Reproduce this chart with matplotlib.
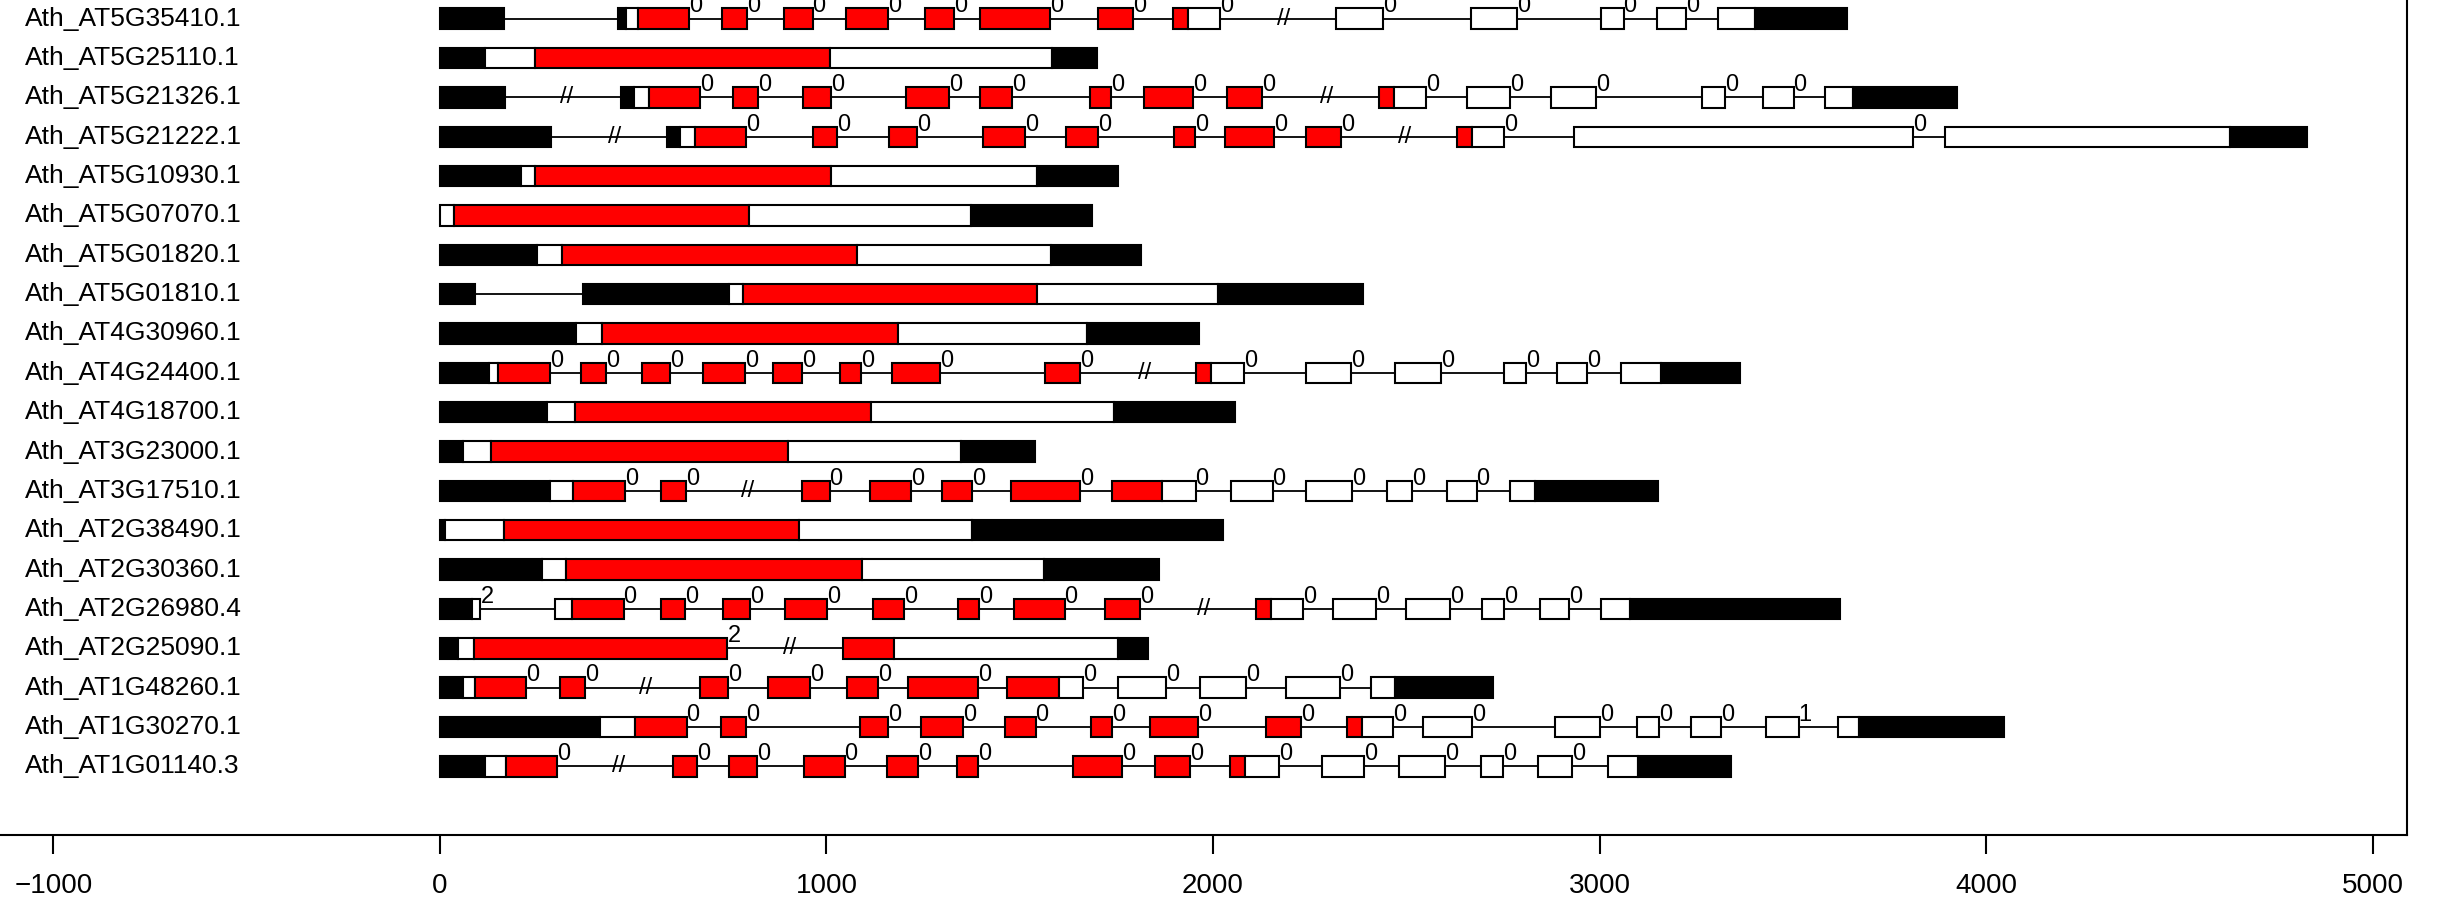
import matplotlib
matplotlib.use("Agg")
import matplotlib.pyplot as plt
from matplotlib.patches import Rectangle
from matplotlib import transforms

plt.rcParams['font.family'] = ['Liberation Sans', 'DejaVu Sans']

# segment kinds: u = UTR (black), c = CDS (white), d = domain (red)
gene_names = ["Ath_AT5G35410.1", "Ath_AT5G25110.1", "Ath_AT5G21326.1", "Ath_AT5G21222.1",
              "Ath_AT5G10930.1", "Ath_AT5G07070.1", "Ath_AT5G01820.1", "Ath_AT5G01810.1",
              "Ath_AT4G30960.1", "Ath_AT4G24400.1", "Ath_AT4G18700.1", "Ath_AT3G23000.1",
              "Ath_AT3G17510.1", "Ath_AT2G38490.1", "Ath_AT2G30360.1", "Ath_AT2G26980.4",
              "Ath_AT2G25090.1", "Ath_AT1G48260.1", "Ath_AT1G30270.1", "Ath_AT1G01140.3"]

seg_AT5G35410 = [(0, 165, 'u'), (462, 482, 'u'), (482, 513, 'c'), (513, 645, 'd'), (731, 795, 'd'),
                 (891, 964, 'd'), (1050, 1159, 'd'), (1256, 1331, 'd'), (1398, 1578, 'd'), (1703, 1793, 'd'),
                 (1896, 1935, 'd'), (1935, 2019, 'c'), (2319, 2440, 'c'), (2668, 2786, 'c'), (3004, 3062, 'c'),
                 (3148, 3224, 'c'), (3307, 3403, 'c'), (3403, 3641, 'u')]
seg_AT5G25110 = [(0, 117, 'u'), (117, 245, 'c'), (245, 1009, 'd'), (1009, 1583, 'c'), (1583, 1701, 'u')]
seg_AT5G21326 = [(0, 168, 'u'), (468, 502, 'u'), (502, 540, 'c'), (540, 673, 'd'), (757, 823, 'd'),
                 (939, 1011, 'd'), (1207, 1317, 'd'), (1398, 1480, 'd'), (1681, 1736, 'd'), (1822, 1949, 'd'),
                 (2037, 2128, 'd'), (2429, 2467, 'd'), (2467, 2552, 'c'), (2657, 2769, 'c'), (2875, 2990, 'c'),
                 (3265, 3324, 'c'), (3424, 3502, 'c'), (3582, 3656, 'c'), (3656, 3924, 'u')]
seg_AT5G21222 = [(0, 288, 'u'), (587, 622, 'u'), (622, 660, 'c'), (660, 793, 'd'), (964, 1028, 'd'),
                 (1162, 1234, 'd'), (1406, 1513, 'd'), (1620, 1703, 'd'), (1898, 1954, 'd'), (2030, 2157, 'd'),
                 (2240, 2331, 'd'), (2632, 2670, 'd'), (2670, 2754, 'c'), (2935, 3810, 'c'), (3895, 4630, 'c'),
                 (4630, 4829, 'u')]
seg_AT5G10930 = [(0, 210, 'u'), (210, 245, 'c'), (245, 1011, 'd'), (1011, 1546, 'c'), (1546, 1754, 'u')]
seg_AT5G07070 = [(0, 37, 'c'), (37, 800, 'd'), (800, 1374, 'c'), (1374, 1688, 'u')]
seg_AT5G01820 = [(0, 252, 'u'), (252, 316, 'c'), (316, 1079, 'd'), (1079, 1580, 'c'), (1580, 1813, 'u')]
seg_AT5G01810 = [(0, 92, 'u'), (371, 749, 'u'), (749, 783, 'c'), (783, 1545, 'd'), (1545, 2012, 'c'),
                 (2012, 2389, 'u')]
seg_AT4G30960 = [(0, 351, 'u'), (351, 419, 'c'), (419, 1184, 'd'), (1184, 1674, 'c'), (1674, 1963, 'u')]
seg_AT4G24400 = [(0, 126, 'u'), (126, 151, 'c'), (151, 284, 'd'), (366, 430, 'd'), (524, 596, 'd'),
                 (680, 790, 'd'), (863, 938, 'd'), (1036, 1089, 'd'), (1170, 1295, 'd'), (1566, 1655, 'd'),
                 (1956, 1995, 'd'), (1995, 2080, 'c'), (2241, 2357, 'c'), (2470, 2589, 'c'), (2752, 2809, 'c'),
                 (2891, 2967, 'c'), (3056, 3159, 'c'), (3159, 3363, 'u')]
seg_AT4G18700 = [(0, 276, 'u'), (276, 350, 'c'), (350, 1114, 'd'), (1114, 1743, 'c'), (1743, 2058, 'u')]
seg_AT3G23000 = [(0, 59, 'u'), (59, 132, 'c'), (132, 900, 'd'), (900, 1347, 'c'), (1347, 1540, 'u')]
seg_AT3G17510 = [(0, 286, 'u'), (286, 345, 'c'), (345, 478, 'd'), (572, 637, 'd'), (938, 1008, 'd'),
                 (1113, 1219, 'd'), (1298, 1377, 'd'), (1477, 1657, 'd'), (1738, 1868, 'd'), (1868, 1955, 'c'),
                 (2046, 2154, 'c'), (2241, 2359, 'c'), (2450, 2514, 'c'), (2605, 2682, 'c'), (2769, 2833, 'c'),
                 (2833, 3152, 'u')]
seg_AT2G38490 = [(0, 12, 'u'), (12, 165, 'c'), (165, 928, 'd'), (928, 1377, 'c'), (1377, 2025, 'u')]
seg_AT2G30360 = [(0, 265, 'u'), (265, 325, 'c'), (325, 1092, 'd'), (1092, 1564, 'c'), (1564, 1860, 'u')]
seg_AT2G26980 = [(0, 82, 'u'), (82, 105, 'c'), (297, 343, 'c'), (343, 475, 'd'), (572, 635, 'd'),
                 (732, 803, 'd'), (894, 1001, 'd'), (1120, 1201, 'd'), (1341, 1395, 'd'), (1485, 1616, 'd'),
                 (1721, 1812, 'd'), (2110, 2149, 'd'), (2149, 2233, 'c'), (2310, 2423, 'c'), (2500, 2614, 'c'),
                 (2695, 2754, 'c'), (2846, 2921, 'c'), (3005, 3080, 'c'), (3080, 3621, 'u')]
seg_AT2G25090 = [(0, 46, 'u'), (46, 89, 'c'), (89, 744, 'd'), (1043, 1176, 'd'), (1176, 1755, 'c'),
                 (1755, 1832, 'u')]
seg_AT1G48260 = [(0, 60, 'u'), (60, 91, 'c'), (91, 223, 'd'), (311, 375, 'd'), (674, 746, 'd'),
                 (849, 957, 'd'), (1052, 1134, 'd'), (1212, 1392, 'd'), (1467, 1601, 'd'), (1601, 1664, 'c'),
                 (1755, 1878, 'c'), (1966, 2086, 'c'), (2190, 2328, 'c'), (2410, 2471, 'c'), (2471, 2724, 'u')]
seg_AT1G30270 = [(0, 414, 'u'), (414, 505, 'c'), (505, 638, 'd'), (728, 792, 'd'), (1088, 1159, 'd'),
                 (1245, 1354, 'd'), (1461, 1541, 'd'), (1685, 1740, 'd'), (1836, 1962, 'd'), (2137, 2227, 'd'),
                 (2347, 2385, 'd'), (2385, 2466, 'c'), (2544, 2671, 'c'), (2884, 3001, 'c'), (3096, 3153, 'c'),
                 (3237, 3314, 'c'), (3431, 3515, 'c'), (3618, 3671, 'c'), (3671, 4047, 'u')]
seg_AT1G01140 = [(0, 116, 'u'), (116, 170, 'c'), (170, 302, 'd'), (602, 665, 'd'), (749, 820, 'd'),
                 (941, 1047, 'd'), (1156, 1236, 'd'), (1338, 1392, 'd'), (1637, 1764, 'd'), (1849, 1940, 'd'),
                 (2044, 2083, 'd'), (2083, 2170, 'c'), (2282, 2391, 'c'), (2481, 2600, 'c'), (2693, 2750, 'c'),
                 (2842, 2930, 'c'), (3022, 3099, 'c'), (3099, 3340, 'u')]

segments = [seg_AT5G35410, seg_AT5G25110, seg_AT5G21326, seg_AT5G21222, seg_AT5G10930, seg_AT5G07070,
            seg_AT5G01820, seg_AT5G01810, seg_AT4G30960, seg_AT4G24400, seg_AT4G18700, seg_AT3G23000,
            seg_AT3G17510, seg_AT2G38490, seg_AT2G30360, seg_AT2G26980, seg_AT2G25090, seg_AT1G48260,
            seg_AT1G30270, seg_AT1G01140]

# intron phases, one per intron (None = no label)
phases = [[None] + [0] * 12, [], [None] + [0] * 13, [None] + [0] * 10, [], [], [], [None], [], [0] * 13,
          [], [], [0] * 11, [], [], [2] + [0] * 13, [2], [0] * 10, [0] * 13 + [1], [0] * 13]

# "//" marks on long introns
breaks = [[2183], [], [328, 2293], [453, 2495], [], [], [], [], [], [1823], [], [], [797], [], [],
          [1975], [905], [533], [], [463]]

fill = {'u': 'black', 'c': 'white', 'd': '#ff0000'}
box_h = 0.52

fig = plt.figure(figsize=(24.38, 9.10), dpi=100)
ax = fig.add_axes([0, 0.0824, 0.9873, 0.9176])

for i, segs in enumerate(segments):
    # group contiguous segments into exons
    exons = []
    for s, e, k in segs:
        if exons and exons[-1][-1][1] == s:
            exons[-1].append((s, e, k))
        else:
            exons.append([(s, e, k)])
    for j in range(len(exons) - 1):
        x0 = exons[j][-1][1]
        x1 = exons[j + 1][0][0]
        ax.plot([x0, x1], [i, i], color='black', lw=1.3, zorder=1)
        ph = phases[i][j] if j < len(phases[i]) else None
        if ph is not None:
            ax.text(x0, i - box_h / 2 - 0.05, str(ph), ha='left', va='center', fontsize=17, zorder=4)
    for s, e, k in segs:
        ax.add_patch(Rectangle((s, i - box_h / 2), e - s, box_h, facecolor=fill[k],
                               edgecolor='black', lw=1.5, zorder=3))
    for b in breaks[i]:
        ax.text(b, i, "//", ha='center', va='center', fontsize=17, zorder=2)

trans = transforms.blended_transform_factory(fig.transFigure, ax.transData)
for i, name in enumerate(gene_names):
    ax.text(0.0102, i, name, transform=trans, ha='left', va='center', fontsize=19)

ax.set_xlim(-1138, 5089)
ax.set_ylim(20.745, -0.475)
ax.set_xticks([-1000, 0, 1000, 2000, 3000, 4000, 5000])
ax.set_yticks([])
ax.spines['top'].set_visible(False)
ax.spines['left'].set_visible(False)
ax.spines['bottom'].set_linewidth(1.5)
ax.spines['right'].set_linewidth(1.5)
ax.tick_params(axis='x', length=13.5, width=1.5, labelsize=20, pad=14)

fig.savefig("out.png", dpi=100)
